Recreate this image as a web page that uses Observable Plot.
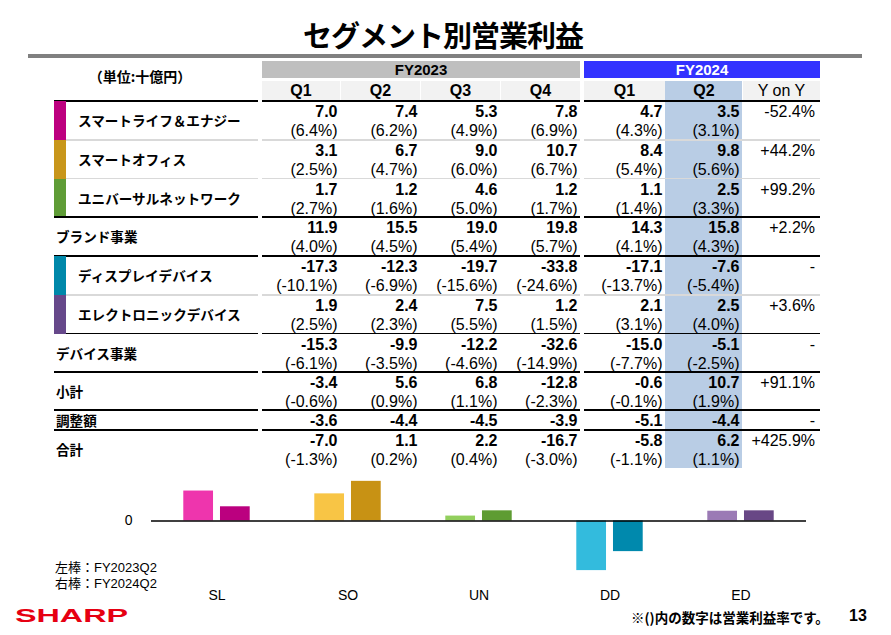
<!DOCTYPE html>
<html><head><meta charset="utf-8">
<script src="https://cdn.jsdelivr.net/npm/d3@7"></script>
<script src="https://cdn.jsdelivr.net/npm/@observablehq/plot@0.6"></script>
<style>
body{margin:0;background:#fff;}
#slide{position:relative;width:891px;height:635px;overflow:hidden;font-family:"Liberation Sans",Arial,"Noto Sans CJK JP",sans-serif;color:#000;}
.a{position:absolute;white-space:nowrap;box-sizing:border-box;}
.jp{font-family:"Noto Sans CJK JP",sans-serif;}
#chart{position:absolute;left:0;top:470px;}
</style></head><body><div id="slide"></div>
<script>
// ---------- data ----------
const title = "セグメント別営業利益";
const unitLabel = "（単位:十億円）";
const fiscalYears = ["FY2023", "FY2024"];
const quarters = ["Q1", "Q2", "Q3", "Q4", "Q1", "Q2"];
const yoyHeader = "Y on Y";
const rowLabels = ["スマートライフ＆エナジー", "スマートオフィス", "ユニバーサルネットワーク", "ブランド事業",
  "ディスプレイデバイス", "エレクトロニックデバイス", "デバイス事業", "小計", "調整額", "合計"];
const profits = [
  [7.0, 7.4, 5.3, 7.8, 4.7, 3.5],
  [3.1, 6.7, 9.0, 10.7, 8.4, 9.8],
  [1.7, 1.2, 4.6, 1.2, 1.1, 2.5],
  [11.9, 15.5, 19.0, 19.8, 14.3, 15.8],
  [-17.3, -12.3, -19.7, -33.8, -17.1, -7.6],
  [1.9, 2.4, 7.5, 1.2, 2.1, 2.5],
  [-15.3, -9.9, -12.2, -32.6, -15.0, -5.1],
  [-3.4, 5.6, 6.8, -12.8, -0.6, 10.7],
  [-3.6, -4.4, -4.5, -3.9, -5.1, -4.4],
  [-7.0, 1.1, 2.2, -16.7, -5.8, 6.2]
];
const margins = [
  [6.4, 6.2, 4.9, 6.9, 4.3, 3.1],
  [2.5, 4.7, 6.0, 6.7, 5.4, 5.6],
  [2.7, 1.6, 5.0, 1.7, 1.4, 3.3],
  [4.0, 4.5, 5.4, 5.7, 4.1, 4.3],
  [-10.1, -6.9, -15.6, -24.6, -13.7, -5.4],
  [2.5, 2.3, 5.5, 1.5, 3.1, 4.0],
  [-6.1, -3.5, -4.6, -14.9, -7.7, -2.5],
  [-0.6, 0.9, 1.1, -2.3, -0.1, 1.9],
  null,
  [-1.3, 0.2, 0.4, -3.0, -1.1, 1.1]
];
const yoy = ["-52.4%", "+44.2%", "+99.2%", "+2.2%", "-", "+3.6%", "-", "+91.1%", "-", "+425.9%"];
const segCodes = ["SL", "SO", "UN", "DD", "ED"];
const segRows = [0, 1, 2, 4, 5];           // table rows that are the five segments
const barPeriods = ["FY2023Q2", "FY2024Q2"];
const barCols = [1, 5];                      // table columns used by the bars
const barLegend = ["左棒：FY2023Q2", "右棒：FY2024Q2"];
const note = "※()内の数字は営業利益率です。";
const pageNo = "13";
const brand = "SHARP";

// ---------- styles ----------
const segMarkerColors = ["#bd007f", "#c8961a", "#5f9c36", "#0088aa", "#66488a"];
const barColors = ["#ee35ad", "#bb007f", "#f8c545", "#c89214", "#92cf5d", "#5e9c32",
  "#33bbdd", "#0089ad", "#9b7ab5", "#684785"];

// ---------- layout ----------
const S = document.getElementById("slide");
function el(cls, css, text) {
  const d = document.createElement("div");
  d.className = "a " + (cls || "");
  Object.assign(d.style, css);
  if (text != null) d.textContent = text;
  S.appendChild(d);
  return d;
}
const px = v => v + "px";

el("jp", {left: "0px", width: "886px", top: "14px", height: "40px", lineHeight: "40px", textAlign: "center",
  fontSize: "29px", fontWeight: "700", letterSpacing: "-1px"}, title);
el("", {left: "28px", width: "834px", top: "54px", height: "4px", background: "#808080"});

const colL = [262, 340, 420, 500, 584, 665, 742];
const colR = [340, 420, 500, 580, 665, 742, 820];
const rowTop = [101, 140, 178.5, 217, 256, 295, 333.5, 372, 410, 430, 468];
const isSub = [1, 1, 1, 0, 1, 1, 0, 0, 0, 0];

// header
el("jp", {left: "86px", width: "108px", top: "66px", height: "20px", lineHeight: "20px", textAlign: "center",
  fontSize: "14px", fontWeight: "700"}, unitLabel);
el("", {left: "262px", width: "318px", top: "61px", height: "17px", lineHeight: "17px", background: "#bfbfbf",
  textAlign: "center", fontSize: "15px", fontWeight: "700"}, fiscalYears[0]);
el("", {left: "584px", width: "236px", top: "61px", height: "17px", lineHeight: "17px", background: "#3333ff",
  color: "#fff", textAlign: "center", fontSize: "15px", fontWeight: "700"}, fiscalYears[1]);
// Q2 highlight column
el("", {left: "665px", width: "77px", top: "81px", height: px(468 - 81), background: "#b9cde5"});
quarters.concat([yoyHeader]).forEach((q, i) => {
  el("", {left: px(colL[i] + (i === 0 || i === 4 ? 0 : 1)), width: px(colR[i] - colL[i] - (i === 0 || i === 4 ? 0 : 1)),
    top: "81px", height: "20px", lineHeight: "20px",
    background: i === 5 ? "#b9cde5" : "#f2f2f2", textAlign: "center", fontSize: "16px",
    fontWeight: i === 6 ? "400" : "700"}, q);
});
function hline(y, x1, x2, color, w) {
  el("", {left: px(x1), width: px(x2 - x1), top: px(y - w / 2), height: px(w), background: color});
}
hline(101, 54, 258, "#000", 1.5);
hline(101, 262, 580, "#000", 1.5);
hline(101, 584, 820, "#000", 1.5);

// rows
let mk = 0;
rowLabels.forEach((lab, r) => {
  const t = rowTop[r], b = rowTop[r + 1], h = b - t;
  if (isSub[r]) {
    el("", {left: "54px", width: "12px", top: px(t), height: px(h), background: segMarkerColors[mk++]});
  }
  el("jp", {left: px(isSub[r] ? 78 : 56), top: px(t), height: px(h), lineHeight: px(h),
    fontSize: "13.6px", fontWeight: "700"}, lab);
  profits[r].forEach((v, c) => {
    el("", {left: px(colL[c]), width: px(colR[c] - colL[c] - 2.5), top: px(t + 1), height: "19px", lineHeight: "19px",
      textAlign: "right", fontSize: "16px", fontWeight: "700"}, v.toFixed(1));
    if (margins[r]) {
      el("", {left: px(colL[c]), width: px(colR[c] - colL[c] - 2.5), top: px(t + 20), height: "19px", lineHeight: "19px",
        textAlign: "right", fontSize: "16px"}, "(" + margins[r][c].toFixed(1) + "%)");
    }
  });
  el("", {left: px(colL[6]), width: px(colR[6] - colL[6] - 5), top: px(t + 1), height: "19px", lineHeight: "19px",
    textAlign: "right", fontSize: "16px"}, yoy[r]);
  if (r < rowLabels.length - 1) {
    const light = isSub[r] && isSub[r + 1] && r !== 2;
    const col = light ? "#d9d9d9" : "#000";
    const w = 1.5;
    hline(b, light || r === 5 ? 66 : 54, 258, col, w);
    hline(b, 262, 580, col, w);
    hline(b, 584, 820, col, w);
  }
});

// ---------- bar chart ----------
const bars = segRows.flatMap((r, i) => barPeriods.map((p, j) => ({seg: segCodes[i], per: p, v: profits[r][barCols[j]]})));
const colorKeys = segCodes.flatMap(s => barPeriods.map(p => s + " " + p));
const chart = Plot.plot({
  width: 891, height: 141,
  marginLeft: 149, marginRight: 83, marginTop: 6, marginBottom: 30,
  style: {fontSize: "14px", fontFamily: "Liberation Sans, Arial, sans-serif", background: "transparent", color: "#000", overflow: "visible"},
  facet: {data: bars, x: "seg"},
  fx: {domain: segCodes, padding: 0, axis: "bottom", label: null, tickSize: 0, tickPadding: 9},
  x: {domain: barPeriods, paddingInner: 0.19, paddingOuter: 0.88, axis: null, round: false},
  y: {domain: [-15, 11], ticks: [0], tickSize: 0, tickPadding: 19, label: null},
  color: {domain: colorKeys, range: barColors},
  marks: [
    Plot.barY(bars, {x: "per", y: "v", fill: d => d.seg + " " + d.per}),
    Plot.ruleY([0], {stroke: "#000", strokeWidth: 1.5})
  ]
});
chart.id = "chart";
S.appendChild(chart);

// ---------- footer ----------
barLegend.forEach((t, i) => {
  el("", {left: "55px", top: px(559 + i * 16), height: "18px", lineHeight: "18px", fontSize: "13px"}, t);
});
const logo = document.createElementNS("http://www.w3.org/2000/svg", "svg");
logo.setAttribute("width", "120"); logo.setAttribute("height", "22");
Object.assign(logo.style, {position: "absolute", left: "14px", top: "603px"});
const lt = document.createElementNS("http://www.w3.org/2000/svg", "text");
lt.setAttribute("x", "1"); lt.setAttribute("y", "18.5");
lt.setAttribute("textLength", "113"); lt.setAttribute("lengthAdjust", "spacingAndGlyphs");
lt.setAttribute("fill", "#e60012");
lt.setAttribute("style", "font-family:'Liberation Sans',Arial,sans-serif;font-weight:900;font-size:18.5px;");
lt.textContent = brand;
logo.appendChild(lt);
S.appendChild(logo);
el("jp", {left: "631px", top: "608px", height: "18px", lineHeight: "18px", fontSize: "13.5px", fontWeight: "700"}, note);
el("", {left: "849px", top: "606px", height: "20px", lineHeight: "20px", fontSize: "16px", fontWeight: "700"}, pageNo);
</script></body></html>
